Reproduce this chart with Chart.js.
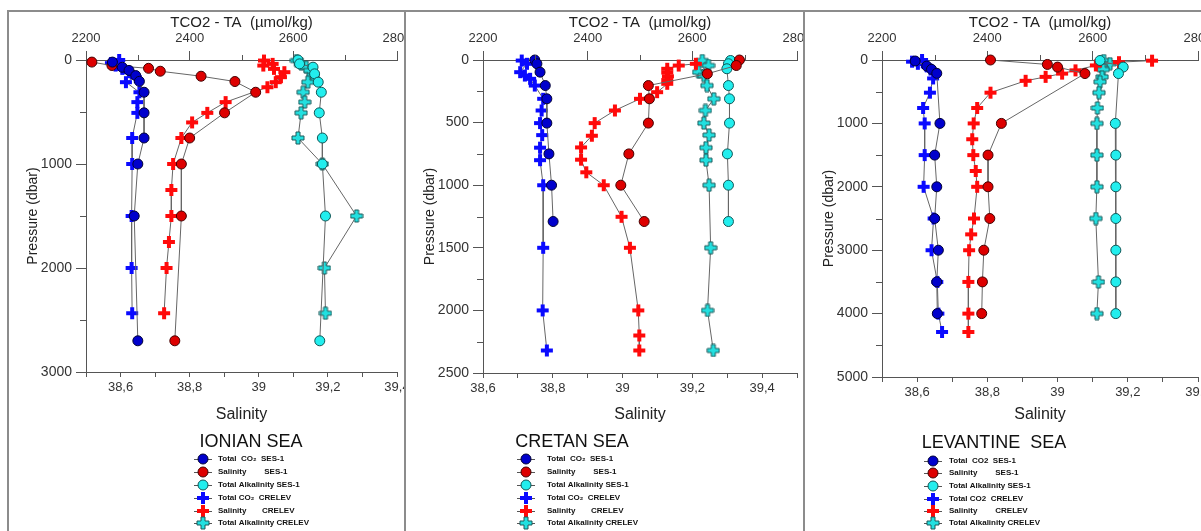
<!DOCTYPE html>
<html>
<head>
<meta charset="utf-8">
<script src="https://cdn.jsdelivr.net/npm/chart.js@4.4.1/dist/chart.umd.min.js"></script>
<style>
  body { margin: 0; background: #fff; width: 1201px; height: 531px; overflow: hidden; position: relative; }
  .panel { position: absolute; top: 10px; height: 540px; border-top: 2px solid #8c8c8c; border-left: 2px solid #8c8c8c; overflow: hidden; }
  .panel canvas { position: absolute; left: 0; top: 0; }
</style>
</head>
<body>
<div class="panel" style="left:7px;width:397px"><canvas id="c1" width="430" height="520"></canvas></div>
<div class="panel" style="left:404px;width:397px"><canvas id="c2" width="430" height="520"></canvas></div>
<div class="panel" style="left:803px;width:400px"><canvas id="c3" width="430" height="520"></canvas></div>
<script>
// profiles: [value, pressure (dbar)]
// TCO2 / TA in umol/kg on the top axis, salinity on the bottom axis

// Ionian Sea
const ionianCo2Ses = [[2251,20],[2270,70],[2283,100],[2296,150],[2303,205],[2312,310],[2312,508],[2312,750],[2300,1000],[2293,1500],[2300,2700]];
const ionianSalSes = [[38.517,20],[38.575,53],[38.681,80],[38.715,108],[38.833,156],[38.931,207],[38.991,310],[38.901,508],[38.80,750],[38.776,1000],[38.776,1500],[38.757,2700]];
const ionianTaSes = [[2609,0],[2612,37],[2638,69],[2641,133],[2648,213],[2654,310],[2650,508],[2656,750],[2656,1000],[2662,1500],[2651,2700]];
const ionianCo2Crelev = [[2264,0],[2248,30],[2257,53],[2270,85],[2283,117],[2296,165],[2277,213],[2303,310],[2299,405],[2299,508],[2289,750],[2289,1000],[2288,1500],[2288,2000],[2289,2435]];
const ionianSalCrelev = [[39.015,5],[39.04,37],[39.013,53],[39.044,85],[39.074,117],[39.064,165],[39.049,213],[39.025,262],[38.904,405],[38.851,508],[38.807,600],[38.776,750],[38.752,1000],[38.747,1250],[38.747,1500],[38.74,1750],[38.733,2000],[38.726,2435]];
const ionianTaCrelev = [[2606,5],[2615,37],[2625,69],[2632,101],[2638,149],[2628,213],[2619,310],[2622,405],[2615,508],[2609,750],[2656,1000],[2722,1500],[2660,2000],[2662,2435]];

// Cretan Sea
const cretanCo2Ses = [[2299,0],[2303,30],[2309,97],[2319,204],[2322,310],[2322,504],[2326,750],[2331,1000],[2334,1290]];
const cretanSalSes = [[39.335,0],[39.326,44],[39.243,110],[39.074,204],[39.077,310],[39.074,504],[39.018,750],[38.995,1000],[39.062,1290]];
const cretanTaSes = [[2673,4],[2669,30],[2666,70],[2669,204],[2671,310],[2671,504],[2667,750],[2669,1000],[2669,1290]];
const cretanCo2Crelev = [[2274,4],[2284,30],[2271,97],[2280,124],[2290,150],[2299,204],[2315,310],[2312,403],[2309,504],[2313,600],[2309,700],[2309,800],[2315,1000],[2315,1500],[2314,2000],[2322,2320]];
const cretanSalCrelev = [[39.21,30],[39.161,44],[39.128,70],[39.128,100],[39.13,130],[39.128,160],[39.128,190],[39.099,257],[39.05,310],[38.978,403],[38.92,504],[38.912,605],[38.881,698],[38.881,796],[38.896,897],[38.946,1000],[38.997,1252],[39.021,1500],[39.045,2000],[39.048,2200],[39.048,2320]];
const cretanTaCrelev = [[2619,4],[2631,44],[2612,97],[2622,124],[2628,204],[2641,310],[2625,403],[2622,504],[2632,600],[2626,700],[2626,800],[2632,1000],[2635,1500],[2629,2000],[2640,2320]];

// Levantine Sea
const levantCo2Ses = [[2263,16],[2285,95],[2294,147],[2304,210],[2310,1000],[2300,1500],[2304,2000],[2300,2500],[2307,3000],[2304,3500],[2305,4000]];
const levantSalSes = [[38.809,0],[38.971,70],[39.0,112],[39.078,214],[38.84,1000],[38.802,1500],[38.802,2000],[38.807,2500],[38.79,3000],[38.786,3500],[38.784,4000]];
const levantTaSes = [[2614,8],[2658,112],[2649,214],[2643,1000],[2644,1500],[2644,2000],[2644,2500],[2644,3000],[2644,3500],[2644,4000]];
const levantCo2Crelev = [[2276,0],[2257,26],[2268,60],[2285,100],[2292,150],[2297,290],[2291,515],[2278,757],[2281,1000],[2281,1500],[2279,2000],[2298,2500],[2294,3000],[2305,3500],[2307,4000],[2314,4290]];
const levantSalCrelev = [[39.269,10],[39.175,34],[39.109,85],[39.051,163],[39.013,214],[38.966,266],[38.909,328],[38.809,515],[38.771,757],[38.761,1000],[38.757,1250],[38.76,1500],[38.767,1750],[38.771,2000],[38.762,2500],[38.754,2750],[38.748,3000],[38.746,3500],[38.746,4000],[38.746,4290]];
const levantTaCrelev = [[2621,8],[2633,59],[2615,90],[2620,150],[2618,266],[2614,344],[2612,515],[2609,757],[2608,1000],[2608,1500],[2608,2000],[2606,2500],[2611,3500],[2608,4000]];

// labelled ticks
const tcoTicks = [2200, 2400, 2600, 2800];
const salTicks = [38.6, 38.8, 39, 39.2, 39.4];
const ionianPresTicks = [0, 1000, 2000, 3000];
const cretanPresTicks = [0, 500, 1000, 1500, 2000, 2500];
const levantPresTicks = [0, 1000, 2000, 3000, 4000, 5000];

const labelsSub = ['Total  CO\u2082  SES-1', 'Salinity        SES-1', 'Total Alkalinity SES-1', 'Total CO\u2082  CRELEV', 'Salinity       CRELEV', 'Total Alkalinity CRELEV'];
const labelsPlain = ['Total  CO2  SES-1', 'Salinity        SES-1', 'Total Alkalinity SES-1', 'Total CO2  CRELEV', 'Salinity        CRELEV', 'Total Alkalinity CRELEV'];

Chart.defaults.font.family = '"Liberation Sans", Arial, sans-serif';

// filled plus marker, optionally outlined
function plusImage(fill, stroke) {
  const c = document.createElement('canvas');
  c.width = 14; c.height = 14;
  const g = c.getContext('2d');
  g.beginPath();
  g.moveTo(5, 1); g.lineTo(9, 1); g.lineTo(9, 5); g.lineTo(13, 5); g.lineTo(13, 9); g.lineTo(9, 9);
  g.lineTo(9, 13); g.lineTo(5, 13); g.lineTo(5, 9); g.lineTo(1, 9); g.lineTo(1, 5); g.lineTo(5, 5);
  g.closePath();
  g.fillStyle = fill; g.fill();
  if (stroke) { g.strokeStyle = stroke; g.lineWidth = 1; g.stroke(); }
  return c;
}

const seriesStyles = [
  { axis: 'xt', shape: 'circle', fill: '#0000cc', stroke: '#000033' },
  { axis: 'xb', shape: 'circle', fill: '#dd0000', stroke: '#440000' },
  { axis: 'xt', shape: 'circle', fill: '#22eeee', stroke: '#105555' },
  { axis: 'xt', shape: plusImage('#0a0aff') },
  { axis: 'xb', shape: plusImage('#ff0a0a') },
  { axis: 'xt', shape: plusImage('#22e0e0', '#1d5a5a') }
];

const panels = [
  { id: 'c1', right: 388, bottom: 360, pMax: 3000, pStep: 500, pTicks: ionianPresTicks, salMin: 38.5, salMax: 39.4,
    title: 'IONIAN SEA', titleX: 242, titleY: 430, markX: 194, textX: 209, rows: [447, 460, 473, 486, 499, 511],
    labels: labelsSub,
    series: [ionianCo2Ses, ionianSalSes, ionianTaSes, ionianCo2Crelev, ionianSalCrelev, ionianTaCrelev] },
  { id: 'c2', right: 391, bottom: 361, pMax: 2500, pStep: 250, pTicks: cretanPresTicks, salMin: 38.6, salMax: 39.5,
    title: 'CRETAN SEA', titleX: 166, titleY: 430, markX: 120, textX: 141, rows: [447, 460, 473, 486, 499, 511],
    labels: labelsSub,
    series: [cretanCo2Ses, cretanSalSes, cretanTaSes, cretanCo2Crelev, cretanSalCrelev, cretanTaCrelev] },
  { id: 'c3', right: 393, bottom: 365, pMax: 5000, pStep: 500, pTicks: levantPresTicks, salMin: 38.5, salMax: 39.4,
    title: 'LEVANTINE  SEA', titleX: 189, titleY: 431, markX: 128, textX: 144, rows: [449, 461, 474, 487, 499, 511],
    labels: labelsPlain,
    series: [levantCo2Ses, levantSalSes, levantTaSes, levantCo2Crelev, levantSalCrelev, levantTaCrelev] }
];

const near = (list, v) => list.find(s => Math.abs(s - v) < 1e-6);

function makeChart(p) {
  const datasets = p.series.map((pts, i) => {
    const s = seriesStyles[i];
    return {
      label: p.labels[i],
      data: pts.map(([v, pr]) => ({ x: v, y: pr })),
      xAxisID: s.axis,
      yAxisID: 'y',
      showLine: true,
      borderColor: '#666',
      borderWidth: 1,
      pointStyle: s.shape,
      pointRadius: 5,
      pointBackgroundColor: s.fill,
      pointBorderColor: s.stroke,
      pointBorderWidth: 1,
      clip: false
    };
  });

  // short ticks between the labelled ones
  const minorTicks = {
    id: 'minorTicks',
    afterDraw(chart) {
      const ctx = chart.ctx, a = chart.chartArea;
      const xt = chart.scales.xt, y = chart.scales.y;
      ctx.save();
      ctx.strokeStyle = '#555';
      ctx.lineWidth = 1;
      ctx.beginPath();
      xt.ticks.forEach(t => {
        if (near(tcoTicks, t.value) === undefined) {
          const x = Math.round(xt.getPixelForValue(t.value)) + 0.5;
          ctx.moveTo(x, a.top); ctx.lineTo(x, a.top - 5);
        }
      });
      y.ticks.forEach(t => {
        if (near(p.pTicks, t.value) === undefined) {
          const yy = Math.round(y.getPixelForValue(t.value)) + 0.5;
          ctx.moveTo(a.left, yy); ctx.lineTo(a.left - 6, yy);
        }
      });
      ctx.stroke();
      ctx.restore();
    }
  };

  // legend block under the plot
  const legendBlock = {
    id: 'legendBlock',
    afterDraw(chart) {
      const ctx = chart.ctx;
      ctx.save();
      ctx.fillStyle = '#111';
      ctx.font = '18px "Liberation Sans", Arial, sans-serif';
      ctx.textAlign = 'center';
      ctx.textBaseline = 'middle';
      ctx.fillText(p.title, p.titleX, p.titleY);
      chart.data.datasets.forEach((ds, i) => {
        const yy = p.rows[i];
        ctx.strokeStyle = '#555';
        ctx.lineWidth = 1;
        ctx.beginPath();
        ctx.moveTo(p.markX - 9, yy + 0.5);
        ctx.lineTo(p.markX + 9, yy + 0.5);
        ctx.stroke();
        if (ds.pointStyle === 'circle') {
          ctx.beginPath();
          ctx.arc(p.markX, yy, 5, 0, Math.PI * 2);
          ctx.fillStyle = ds.pointBackgroundColor;
          ctx.fill();
          ctx.strokeStyle = ds.pointBorderColor;
          ctx.stroke();
        } else {
          const img = ds.pointStyle;
          ctx.drawImage(img, p.markX - img.width / 2, yy - img.height / 2);
        }
        ctx.fillStyle = '#111';
        ctx.font = 'bold 8px "Liberation Sans", Arial, sans-serif';
        ctx.textAlign = 'left';
        ctx.fillText(ds.label, p.textX, yy);
      });
      ctx.restore();
    }
  };

  new Chart(document.getElementById(p.id), {
    type: 'scatter',
    data: { datasets },
    options: {
      responsive: false,
      devicePixelRatio: 1,
      animation: false,
      layout: { padding: { left: 0, right: 430 - p.right, top: 0, bottom: 0 } },
      plugins: { legend: { display: false }, tooltip: { enabled: false } },
      scales: {
        xt: {
          type: 'linear', position: 'top', min: 2200, max: 2800,
          afterFit: s => { s.height = 48; },
          ticks: {
            stepSize: 100, autoSkip: false, maxRotation: 0, padding: 5, color: '#333', font: { size: 13 },
            callback: v => { const t = near(tcoTicks, v); return t === undefined ? '' : String(t); }
          },
          grid: { drawOnChartArea: false, tickLength: 9,
            tickColor: c => near(tcoTicks, c.tick.value) === undefined ? 'rgba(0,0,0,0)' : '#555' },
          border: { color: '#555' },
          title: { display: true, text: 'TCO2 - TA  (\u00b5mol/kg)', color: '#222', font: { size: 15 }, padding: { top: 2, bottom: 0 } }
        },
        xb: {
          type: 'linear', position: 'bottom', min: p.salMin, max: p.salMax,
          afterFit: s => { s.height = 520 - p.bottom; },
          ticks: {
            stepSize: 0.1, autoSkip: false, maxRotation: 0, padding: 3, color: '#333', font: { size: 13 },
            callback: v => { const t = near(salTicks, v); return t === undefined ? '' : String(t).replace('.', ','); }
          },
          grid: { drawOnChartArea: false, tickLength: 5, tickColor: '#555' },
          border: { color: '#555' },
          title: { display: true, text: 'Salinity', color: '#222', font: { size: 16 }, padding: { top: 0, bottom: 108 } }
        },
        y: {
          type: 'linear', position: 'left', reverse: true, min: 0, max: p.pMax,
          afterFit: s => { s.width = 77; },
          ticks: {
            stepSize: p.pStep, autoSkip: false, padding: 4, color: '#333', font: { size: 14 },
            callback: v => { const t = near(p.pTicks, v); return t === undefined ? '' : String(t); }
          },
          grid: { drawOnChartArea: false, tickLength: 10,
            tickColor: c => near(p.pTicks, c.tick.value) === undefined ? 'rgba(0,0,0,0)' : '#555' },
          border: { color: '#555' },
          title: { display: true, text: 'Pressure (dbar)', color: '#222', font: { size: 14 }, padding: { top: 16, bottom: 0 } }
        }
      }
    },
    plugins: [minorTicks, legendBlock]
  });
}

panels.forEach(makeChart);
</script>
</body>
</html>
